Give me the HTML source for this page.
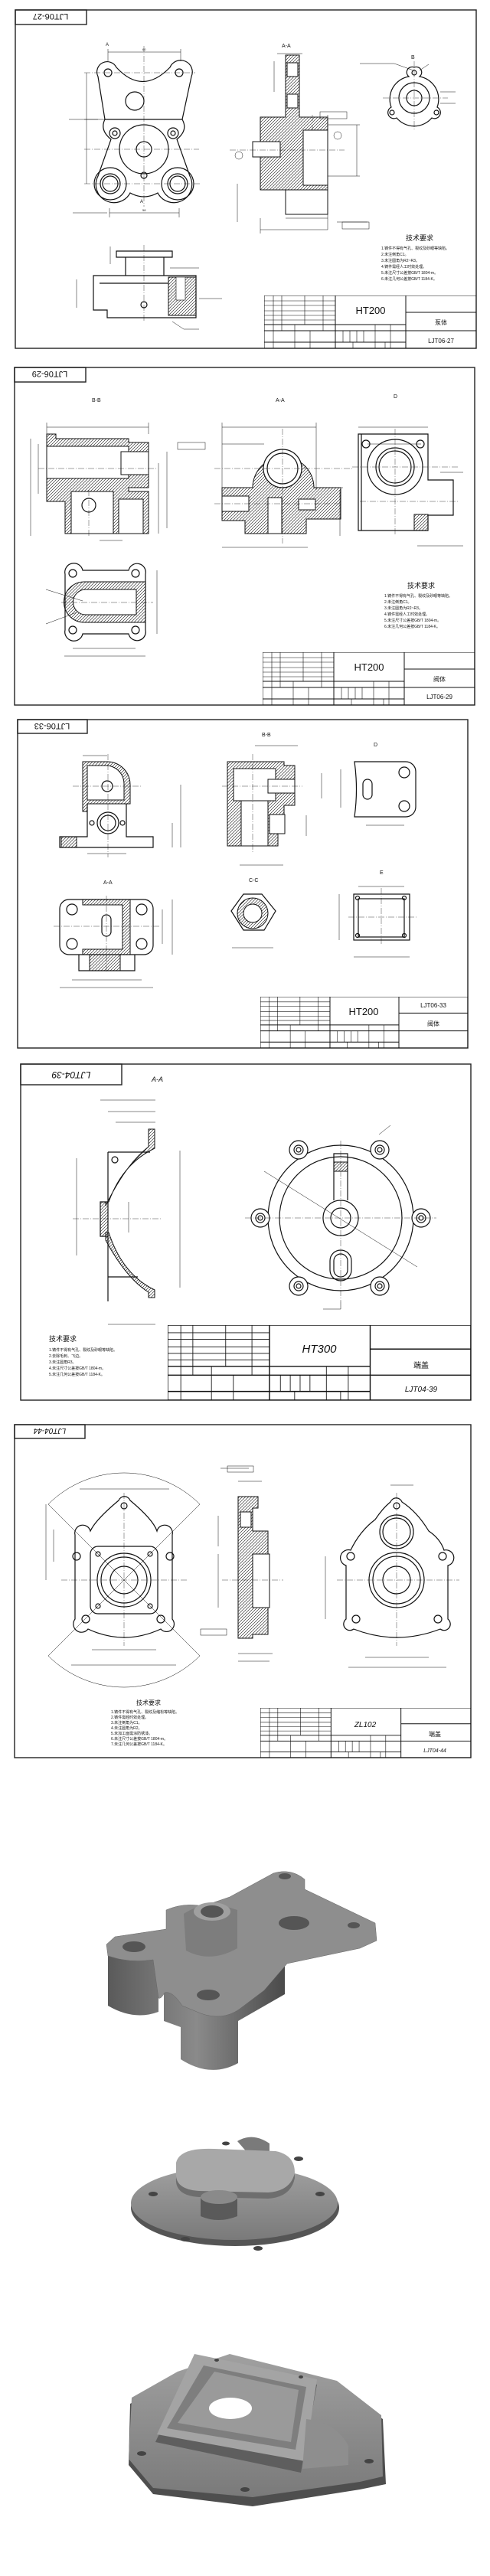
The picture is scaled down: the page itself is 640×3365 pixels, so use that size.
<!DOCTYPE html>
<html><head><meta charset="utf-8"><style>
html,body{margin:0;padding:0;background:#fff}
svg{display:block}
text{font-family:"Liberation Sans","Noto Sans CJK SC",sans-serif;fill:#111}
.o{fill:none;stroke:#111;stroke-width:1.2}
.t{fill:none;stroke:#111;stroke-width:.5}
.c{fill:none;stroke:#111;stroke-width:.4;stroke-dasharray:8 2 1 2}
.hf{fill:url(#h);stroke:#111;stroke-width:1}
.b{fill:none;stroke:#222;stroke-width:1.4}
.tr{font-size:5px}
</style></head><body>
<svg width="640" height="3365" viewBox="0 0 640 3365" xmlns="http://www.w3.org/2000/svg">
<defs>
<pattern id="h" patternUnits="userSpaceOnUse" width="4" height="4"><path d="M0,4 L4,0 M-1,1 L1,-1 M3,5 L5,3" stroke="#111" stroke-width=".6"/></pattern>
<linearGradient id="g1" x1="0" x2="1"><stop offset="0" stop-color="#5a5a5a"/><stop offset=".5" stop-color="#8a8a8a"/><stop offset="1" stop-color="#4a4a4a"/></linearGradient>
<linearGradient id="g2" x1="0" y1="0" x2="0" y2="1"><stop offset="0" stop-color="#a0a0a0"/><stop offset="1" stop-color="#7a7a7a"/></linearGradient>
<symbol id="tb" viewBox="0 0 277 69" preserveAspectRatio="none">
<g fill="none" stroke="#111" stroke-width="1">
<rect x="0" y="0" width="277" height="69"/>
<path d="M93,0V69 M185,0V69 M185,22H277 M185,46H277 M93,38H185 M93,46H185 M93,61H185 M0,38H93 M0,46H93 M0,61H93"/>
<path stroke-width=".6" d="M12,0V69 M23,0V46 M53,0V38 M77,0V46 M40,38V69 M60,46V69 M0,7H93 M0,13H93 M0,20H93 M0,26H93 M0,32H93 M145,38V69 M165,38V69 M103,46V61 M112,46V61 M121,46V61 M130,46V61 M116,61V69 M158,61V69"/>
</g></symbol>
</defs>

<!-- ============ SHEET 1 ============ -->
<rect x="20" y="13" width="602" height="442" class="b"/>
<rect x="20" y="13" width="93" height="19" class="b"/>
<text x="66" y="22" font-size="11" text-anchor="middle" transform="rotate(180 66 22)" dy="4">LJT06-27</text>
<!-- top-left view -->
<path class="o" d="M128,100 L137,156 L238,156 L250,100 A13,13 0 0 0 222,88 Q186,125 152,88 A13,13 0 0 0 128,100Z"/>
<circle cx="141" cy="95" r="5" class="o"/><circle cx="234" cy="95" r="5" class="o"/>
<circle cx="176" cy="132" r="12" class="o"/>
<path class="o" d="M137,156 Q130,170 145,182 L128,230 A22,22 0 0 0 170,252 Q188,262 206,252 A22,22 0 0 0 248,230 L231,182 Q246,170 238,156"/>
<circle cx="150" cy="174" r="7" class="o"/><circle cx="150" cy="174" r="3" class="o"/>
<circle cx="226" cy="174" r="7" class="o"/><circle cx="226" cy="174" r="3" class="o"/>
<circle cx="188" cy="195" r="32" class="o"/>
<circle cx="188" cy="195" r="10" class="o" stroke-width="2.5"/>
<circle cx="144" cy="240" r="21" class="o"/><circle cx="144" cy="240" r="13" class="o"/><circle cx="144" cy="240" r="10" class="o"/>
<circle cx="232" cy="240" r="21" class="o"/><circle cx="232" cy="240" r="13" class="o"/><circle cx="232" cy="240" r="10" class="o"/>
<circle cx="188" cy="229" r="4" class="o"/>
<path class="c" d="M188,60V270 M110,195H260 M110,240H262 M110,95H255"/>
<path class="t" d="M141,68H236 M141,64V80 M236,64V80 M113,95V240 M110,156H137 M143,278H234 M143,272V284 M234,272V284 M90,156H128 M95,278H140"/>
<text x="186" y="66" font-size="4">60</text><text x="186" y="276" font-size="4">58</text>
<text x="138" y="60" font-size="6">A</text><text x="183" y="265" font-size="6">A</text>
<!-- bottom view -->
<path class="o" d="M152,328H225V336H152Z M164,336H214V360H164Z M122,360H256V415H140V405H122Z M130,370H220"/>
<rect x="220" y="362" width="36" height="50" class="hf"/>
<rect x="230" y="362" width="12" height="30" fill="#fff" stroke="#111" stroke-width=".6"/>
<circle cx="188" cy="398" r="4" class="o"/>
<path class="c" d="M188,320V420"/>
<path class="t" d="M100,365V402 M144,322V345 M222,350H260 M260,390H290 M225,420L240,430H260"/>
<!-- A-A section -->
<text x="368" y="62" font-size="7">A-A</text>
<path class="hf" d="M373,72H391V153H428V248H391V280H373V248H340V205H365V185H340V153H373Z"/>
<rect x="375" y="82" width="14" height="18" fill="#fff" stroke="#111"/>
<rect x="375" y="123" width="14" height="18" fill="#fff" stroke="#111"/>
<rect x="396" y="170" width="32" height="72" fill="#fff" stroke="#111"/>
<rect x="330" y="185" width="36" height="20" fill="#fff" stroke="#111"/>
<rect x="373" y="248" width="55" height="32" fill="#fff" stroke="#111"/>
<path class="c" d="M300,196H450 M408,150V170"/>
<path class="t" d="M340,300H428 M340,285V305 M373,285H428 M428,150V300 M466,163V230 M428,163H470 M428,230H470 M362,70H395 M358,80V120 M310,240V290 M440,290H480"/>
<rect x="418" y="146" width="35" height="9" class="t"/><rect x="447" y="290" width="35" height="9" class="t"/>
<circle cx="441" cy="177" r="5" class="t"/><circle cx="312" cy="203" r="5" class="t"/>
<!-- B view -->
<text x="537" y="77" font-size="7">B</text>
<path class="o" d="M541,88A7,7 0 0 1 548,100A30,30 0 0 1 571,140A7,7 0 0 1 564,154A30,30 0 0 1 518,154A7,7 0 0 1 511,140A30,30 0 0 1 534,100A7,7 0 0 1 541,88Z"/>
<circle cx="541" cy="128" r="20" class="o"/><circle cx="541" cy="128" r="10" class="o" stroke-width="2.5"/>
<circle cx="541" cy="95" r="3" class="o"/><circle cx="512" cy="147" r="3" class="o"/><circle cx="570" cy="147" r="3" class="o"/>
<path class="c" d="M500,128H585 M541,80V170"/>
<path class="t" d="M470,83H515L540,92 M560,84L548,92 M575,120H595 M575,135H595"/>
<!-- tech req -->
<text x="530" y="314" font-size="9">技术要求</text>
<g class="tr"><text x="498" y="326">1.铸件不得有气孔、裂纹及砂眼等缺陷。</text><text x="498" y="334">2.未注倒角C1。</text><text x="498" y="342">3.未注圆角为R2~R3。</text><text x="498" y="350">4.铸件需经人工时效处理。</text><text x="498" y="358">5.未注尺寸公差按GB/T 1804-m。</text><text x="498" y="366">6.未注几何公差按GB/T 1184-K。</text></g>
<use href="#tb" x="345" y="386" width="277" height="69"/>
<text x="484" y="410" font-size="13" text-anchor="middle">HT200</text>
<text x="576" y="424" font-size="8" text-anchor="middle">泵体</text>
<text x="576" y="448" font-size="8" text-anchor="middle">LJT06-27</text>

<!-- ============ SHEET 2 ============ -->
<rect x="19" y="480" width="601" height="441" class="b"/>
<rect x="19" y="480" width="93" height="19" class="b"/>
<text x="65" y="489" font-size="11" text-anchor="middle" transform="rotate(180 65 489)" dy="4">LJT06-29</text>
<!-- B-B -->
<text x="120" y="525" font-size="7">B-B</text>
<path class="hf" d="M61,567H73V573H168V578H194V637H168V642H194V697H85V655H73V655H61Z"/>
<rect x="61" y="583" width="107" height="42" fill="#fff" stroke="#111"/>
<rect x="158" y="590" width="36" height="30" fill="#fff" stroke="#111"/>
<rect x="93" y="642" width="55" height="55" fill="#fff" stroke="#111"/>
<rect x="155" y="652" width="32" height="45" fill="#fff" stroke="#111"/>
<circle cx="116" cy="660" r="9" class="o"/>
<path class="c" d="M50,612H205 M116,640V700"/>
<path class="t" d="M61,558H194 M61,552V567 M194,552V567 M40,573V700 M50,580V645 M207,605V697 M218,590V690 M130,706H160"/>
<rect x="232" y="578" width="36" height="9" class="t"/>
<!-- A-A -->
<text x="360" y="525" font-size="7">A-A</text>
<path class="hf" d="M290,637H330A40,40 0 1 1 410,637H445V678H400V697H320V680H290Z"/>
<circle cx="369" cy="612" r="25" fill="#fff" stroke="#111" stroke-width="1.2"/>
<circle cx="369" cy="612" r="20" class="o"/>
<rect x="290" y="648" width="35" height="20" fill="#fff" stroke="#111"/>
<rect x="350" y="650" width="18" height="47" fill="#fff" stroke="#111"/>
<rect x="390" y="652" width="22" height="14" fill="#fff" stroke="#111"/>
<path class="c" d="M280,612H460 M369,560V710 M280,658H445"/>
<path class="t" d="M290,558H413 M290,552V640 M413,552V640 M290,580H345 M290,715H402 M444,640V700 M430,637H448"/>
<!-- D -->
<text x="514" y="520" font-size="7">D</text>
<path class="o" d="M468,567H559V627H592V673H559V693H468Z M472,567V693"/>
<circle cx="516" cy="610" r="36" class="o"/><circle cx="516" cy="610" r="25" class="o"/><circle cx="516" cy="610" r="21" class="o"/>
<circle cx="478" cy="580" r="5" class="o"/><circle cx="549" cy="580" r="5" class="o"/>
<rect x="541" y="672" width="18" height="21" class="hf"/>
<path class="c" d="M460,610H600 M516,560V700 M470,655H600"/>
<path class="t" d="M468,558H559 M480,580H550 M575,617H605 M545,713H605"/>
<!-- C-C -->
<text x="132" y="797" font-size="7">C-C</text>
<path class="o" d="M85,750A11,11 0 0 1 108,745H168A11,11 0 0 1 190,750V823A11,11 0 0 1 168,828H108A11,11 0 0 1 85,823Z"/>
<path class="hf" d="M110,760H190V813H110A26,26 0 0 1 110,760Z"/>
<path d="M112,770H178V803H112A16,16 0 0 1 112,770Z" fill="#fff" stroke="#111"/>
<circle cx="95" cy="749" r="5" class="o"/><circle cx="177" cy="749" r="5" class="o"/><circle cx="95" cy="823" r="5" class="o"/><circle cx="177" cy="823" r="5" class="o"/>
<path class="c" d="M80,787H200"/>
<path class="t" d="M95,847H177 M84,857H190 M205,745V828 M60,770L108,785 M60,815L100,800"/>
<text x="532" y="768" font-size="9">技术要求</text>
<g class="tr"><text x="502" y="780">1.铸件不得有气孔、裂纹及砂眼等缺陷。</text><text x="502" y="788">2.未注倒角C1。</text><text x="502" y="796">3.未注圆角为R2~R3。</text><text x="502" y="804">4.铸件需经人工时效处理。</text><text x="502" y="812">5.未注尺寸公差按GB/T 1804-m。</text><text x="502" y="820">6.未注几何公差按GB/T 1184-K。</text></g>
<use href="#tb" x="343" y="852" width="277" height="69"/>
<text x="482" y="876" font-size="13" text-anchor="middle">HT200</text>
<text x="574" y="890" font-size="8" text-anchor="middle">阀体</text>
<text x="574" y="913" font-size="8" text-anchor="middle">LJT06-29</text>

<!-- ============ SHEET 3 ============ -->
<rect x="23" y="940" width="588" height="429" class="b"/>
<rect x="23" y="940" width="91" height="18" class="b"/>
<text x="68" y="949" font-size="11" text-anchor="middle" transform="rotate(180 68 949)" dy="4">LJT06-33</text>
<!-- front -->
<path class="hf" d="M108,995H140A30,30 0 0 1 170,1025V1050H114V1060H108Z"/>
<path d="M114,1000H138A24,24 0 0 1 162,1024V1045H114Z" fill="#fff" stroke="#111"/>
<circle cx="140" cy="1027" r="7" class="o"/>
<path class="o" d="M114,1050V1093H78V1107H200V1093H165V1050"/>
<rect x="80" y="1093" width="20" height="14" class="hf"/>
<circle cx="141" cy="1075" r="14" class="o"/><circle cx="141" cy="1075" r="10" class="o"/>
<circle cx="120" cy="1075" r="3" class="o"/><circle cx="160" cy="1075" r="3" class="o"/>
<path class="c" d="M95,1027H185 M141,985V1120"/>
<path class="t" d="M108,987H140 M114,1115H165 M236,1025V1107 M225,1075V1107"/>
<!-- B-B -->
<text x="342" y="962" font-size="7">B-B</text>
<path class="hf" d="M297,995H371V1000H385V1052H371V1067H363V1105H297Z"/>
<rect x="305" y="1004" width="55" height="42" fill="#fff" stroke="#111"/>
<rect x="315" y="1046" width="35" height="59" fill="#fff" stroke="#111"/>
<rect x="350" y="1018" width="35" height="18" fill="#fff" stroke="#111"/>
<rect x="352" y="1064" width="20" height="25" fill="#fff" stroke="#111"/>
<path class="c" d="M290,1027H395 M330,985V1115"/>
<path class="t" d="M333,974H389 M313,1130H370 M420,1010V1043 M400,1065V1092"/>
<!-- D -->
<text x="488" y="975" font-size="7">D</text>
<path class="o" d="M463,995H530A13,13 0 0 1 543,1008V1054A13,13 0 0 1 530,1067H463Q468,1031 463,995Z"/>
<circle cx="528" cy="1009" r="7" class="o"/><circle cx="528" cy="1053" r="7" class="o"/>
<rect x="474" y="1018" width="12" height="26" rx="6" class="o"/>
<path class="t" d="M445,1005V1055 M478,1078H528"/>
<!-- A-A -->
<text x="135" y="1155" font-size="7">A-A</text>
<rect x="78" y="1175" width="122" height="72" rx="12" class="o"/>
<path class="hf" d="M108,1175H170V1247H108V1240H160V1182H108Z"/>
<circle cx="94" cy="1188" r="7" class="o"/><circle cx="185" cy="1188" r="7" class="o"/><circle cx="94" cy="1233" r="7" class="o"/><circle cx="185" cy="1233" r="7" class="o"/>
<rect x="133" y="1195" width="12" height="28" rx="6" class="o"/>
<path class="o" d="M103,1247V1268H176V1247"/>
<rect x="117" y="1247" width="40" height="21" class="hf"/>
<path class="c" d="M70,1210H210 M139,1170V1270"/>
<path class="t" d="M94,1280H185 M78,1290H200 M225,1175V1247 M212,1188V1233"/>
<!-- C-C -->
<text x="325" y="1152" font-size="7">C-C</text>
<path class="o" d="M302,1190L318,1168H342L360,1190L345,1215H318Z"/>
<circle cx="330" cy="1193" r="20" class="hf"/><circle cx="330" cy="1193" r="12" fill="#fff" stroke="#111"/>
<path class="t" d="M303,1238H357"/>
<!-- E -->
<text x="496" y="1142" font-size="7">E</text>
<rect x="462" y="1168" width="73" height="60" class="o"/>
<rect x="468" y="1174" width="60" height="50" class="o"/>
<circle cx="467" cy="1173" r="2.5" class="o"/><circle cx="528" cy="1173" r="2.5" class="o"/><circle cx="467" cy="1222" r="2.5" class="o"/><circle cx="528" cy="1222" r="2.5" class="o"/>
<path class="c" d="M455,1198H545 M498,1160V1235"/>
<path class="t" d="M462,1250H535 M468,1158H528 M443,1168V1228"/>
<use href="#tb" x="340" y="1302" width="271" height="67"/>
<text x="475" y="1326" font-size="13" text-anchor="middle">HT200</text>
<text x="566" y="1316" font-size="8" text-anchor="middle">LJT06-33</text>
<text x="566" y="1340" font-size="8" text-anchor="middle">阀体</text>

<!-- ============ SHEET 4 ============ -->
<rect x="27" y="1390" width="588" height="439" class="b"/>
<rect x="27" y="1390" width="132" height="27" class="b"/>
<text x="93" y="1404" font-size="12" font-style="italic" text-anchor="middle" transform="rotate(180 93 1404)" dy="4">LJT04-39</text>
<text x="198" y="1413" font-size="9" font-style="italic">A-A</text>
<!-- section -->
<path class="hf" d="M194,1475H202V1500Q160,1520 142,1570H138V1575Q165,1520 194,1498Z"/>
<path class="hf" d="M138,1610H142Q160,1665 202,1685V1695H194V1688Q165,1670 138,1620Z"/>
<path class="o" d="M141,1505H196 M141,1505V1700 M131,1570H141V1615H131Z M141,1668H180"/>
<rect x="131" y="1570" width="10" height="45" class="hf"/>
<circle cx="150" cy="1515" r="4" class="o"/>
<path class="c" d="M95,1592H210"/>
<path class="t" d="M131,1437H203 M141,1452H203 M151,1466H203 M235,1503V1682 M100,1513V1640 M141,1730H203 M168,1610V1570"/>
<!-- right view -->
<circle cx="445" cy="1591" r="95" class="o"/>
<circle cx="445" cy="1591" r="80" class="o"/>
<g class="o">
<circle cx="390" cy="1502" r="12" fill="#fff"/><circle cx="496" cy="1502" r="12" fill="#fff"/>
<circle cx="340" cy="1591" r="12" fill="#fff"/><circle cx="550" cy="1591" r="12" fill="#fff"/>
<circle cx="390" cy="1680" r="12" fill="#fff"/><circle cx="496" cy="1680" r="12" fill="#fff"/>
<circle cx="390" cy="1502" r="6"/><circle cx="496" cy="1502" r="6"/><circle cx="340" cy="1591" r="6"/><circle cx="550" cy="1591" r="6"/><circle cx="390" cy="1680" r="6"/><circle cx="496" cy="1680" r="6"/>
<circle cx="390" cy="1502" r="3"/><circle cx="496" cy="1502" r="3"/><circle cx="340" cy="1591" r="3"/><circle cx="550" cy="1591" r="3"/><circle cx="390" cy="1680" r="3"/><circle cx="496" cy="1680" r="3"/>
</g>
<circle cx="445" cy="1591" r="23" class="o"/><circle cx="445" cy="1591" r="13" class="o"/>
<path class="o" d="M436,1568V1507H454V1568"/>
<rect x="436" y="1518" width="18" height="12" class="hf"/>
<rect x="431" y="1633" width="28" height="40" rx="14" class="o"/><rect x="436" y="1638" width="18" height="30" rx="9" class="o"/>
<path class="c" d="M320,1591H570 M445,1490V1700"/>
<path class="t" d="M345,1530L545,1655 M495,1482L510,1470 M422,1710H445V1700"/>
<text x="64" y="1752" font-size="9">技术要求</text>
<g class="tr"><text x="64" y="1765">1.铸件不得有气孔、裂纹及砂眼等缺陷。</text><text x="64" y="1773">2.去除毛刺、飞边。</text><text x="64" y="1781">3.未注圆角R3。</text><text x="64" y="1789">4.未注尺寸公差按GB/T 1804-m。</text><text x="64" y="1797">5.未注几何公差按GB/T 1184-K。</text></g>
<use href="#tb" x="219" y="1731" width="396" height="98"/>
<text x="417" y="1767" font-size="15" font-style="italic" text-anchor="middle">HT300</text>
<text x="550" y="1787" font-size="10" text-anchor="middle">端盖</text>
<text x="550" y="1818" font-size="10" font-style="italic" text-anchor="middle">LJT04-39</text>

<!-- ============ SHEET 5 ============ -->
<rect x="19" y="1861" width="596" height="435" class="b"/>
<rect x="19" y="1861" width="92" height="18" class="b"/>
<text x="65" y="1870" font-size="10" font-style="italic" text-anchor="middle" transform="rotate(180 65 1870)" dy="4">LJT04-44</text>
<!-- left view -->
<path class="t" d="M63,1965A140,140 0 0 1 261,1965 M63,2163A140,140 0 0 0 261,2163 M162,2064L63,1965 M162,2064L261,1965 M162,2064L63,2163 M162,2064L261,2163"/>
<path class="o" d="M155,1960A8,8 0 0 1 170,1960Q200,1985 205,2000A8,8 0 0 1 225,2005V2115A8,8 0 0 1 210,2128Q162,2150 115,2128A8,8 0 0 1 98,2115V2005A8,8 0 0 1 118,2000Q125,1985 155,1960Z"/>
<rect x="118" y="2020" width="88" height="88" rx="10" class="o"/>
<circle cx="162" cy="2064" r="35" class="o"/><circle cx="162" cy="2064" r="30" class="o"/><circle cx="162" cy="2064" r="18" class="o"/>
<g class="o"><circle cx="162" cy="1967" r="4"/><circle cx="100" cy="2033" r="5"/><circle cx="222" cy="2033" r="5"/><circle cx="112" cy="2115" r="5"/><circle cx="210" cy="2115" r="5"/><circle cx="128" cy="2030" r="3"/><circle cx="196" cy="2030" r="3"/><circle cx="128" cy="2098" r="3"/><circle cx="196" cy="2098" r="3"/></g>
<path class="c" d="M80,2064H245 M162,1950V2150"/>
<path class="t" d="M104,1945H221 M93,2175H230 M120,2155H204 M60,1965V2064 M70,1998V2040"/>
<!-- middle section -->
<path class="hf" d="M311,1955H337V1970H330V2000H350V2030H337V2100H350V2135H330V2140H311Z"/>
<rect x="314" y="1975" width="14" height="20" fill="#fff" stroke="#111"/>
<rect x="330" y="2030" width="22" height="70" fill="#fff" stroke="#111"/>
<path class="c" d="M290,2064H370"/>
<path class="t" d="M311,1935H342 M311,2160H356 M311,2170H352 M285,1980V2020 M285,2030V2100 M288,1918H325"/>
<rect x="297" y="1915" width="34" height="8" class="t"/><rect x="262" y="2128" width="34" height="8" class="t"/>
<!-- right view -->
<path class="o" d="M510,1962A8,8 0 0 1 525,1962Q545,1975 560,2000Q575,2010 580,2025A8,8 0 0 1 585,2045V2115A8,8 0 0 1 575,2128Q518,2150 462,2128A8,8 0 0 1 452,2115V2045A8,8 0 0 1 458,2025Q470,2000 490,1985Q500,1970 510,1962Z"/>
<circle cx="518" cy="2001" r="22" class="o"/><circle cx="518" cy="2001" r="18" class="o"/>
<circle cx="518" cy="2064" r="36" class="o"/><circle cx="518" cy="2064" r="31" class="o"/><circle cx="518" cy="2064" r="18" class="o"/>
<g class="o"><circle cx="518" cy="1967" r="4"/><circle cx="458" cy="2033" r="5"/><circle cx="578" cy="2033" r="5"/><circle cx="465" cy="2115" r="5"/><circle cx="572" cy="2115" r="5"/></g>
<path class="c" d="M440,2064H600 M518,1950V2150"/>
<path class="t" d="M455,2178H583 M477,2165H560 M425,2033V2115 M510,1940L540,1940"/>
<text x="178" y="2227" font-size="8">技术要求</text>
<g class="tr" font-size="4.5"><text x="145" y="2238">1.铸件不得有气孔、裂纹及缩松等缺陷。</text><text x="145" y="2245">2.铸件需经时效处理。</text><text x="145" y="2252">3.未注倒角为C1。</text><text x="145" y="2259">4.未注圆角为R2。</text><text x="145" y="2266">5.未加工面需涂防锈漆。</text><text x="145" y="2273">6.未注尺寸公差按GB/T 1804-m。</text><text x="145" y="2280">7.未注几何公差按GB/T 1184-K。</text></g>
<use href="#tb" x="340" y="2231" width="275" height="65"/>
<text x="477" y="2256" font-size="10" font-style="italic" text-anchor="middle">ZL102</text>
<text x="568" y="2268" font-size="8" text-anchor="middle">端盖</text>
<text x="568" y="2289" font-size="7" font-style="italic" text-anchor="middle">LJT04-44</text>

<!-- ============ 3D PARTS ============ -->
<!-- part 1 -->
<path d="M141,2552V2620Q175,2640 207,2628V2600L214,2605V2640L236,2648V2690Q275,2715 311,2695V2640L372,2605V2560L141,2545Z" fill="url(#g1)"/>
<path d="M139,2540L150,2530L217,2520L217,2495Q240,2485 265,2490L300,2478L357,2447Q380,2440 398,2455L398,2468L490,2512L492,2535L470,2545L375,2565L345,2600L312,2625Q290,2640 262,2630L238,2620Q225,2600 215,2603Q210,2612 207,2610L200,2560Q170,2565 141,2555Z" fill="#8e8e8e" stroke="#666" stroke-width=".5"/>
<ellipse cx="175" cy="2543" rx="15" ry="7" fill="#555"/>
<ellipse cx="272" cy="2606" rx="15" ry="7" fill="#555"/>
<path d="M240,2500Q270,2480 310,2495V2545Q275,2565 243,2548Z" fill="#7d7d7d"/>
<ellipse cx="277" cy="2497" rx="24" ry="12" fill="#a0a0a0"/>
<ellipse cx="277" cy="2497" rx="15" ry="8" fill="#555"/>
<ellipse cx="384" cy="2512" rx="20" ry="9" fill="#555"/>
<ellipse cx="372" cy="2451" rx="8" ry="4" fill="#555"/><ellipse cx="462" cy="2515" rx="8" ry="4" fill="#555"/>
<!-- part 2 -->
<ellipse cx="307" cy="2884" rx="136" ry="50" fill="#555"/>
<ellipse cx="306" cy="2878" rx="135" ry="48" fill="url(#g2)"/>
<path d="M310,2797Q330,2785 352,2800V2815L330,2820Z" fill="#7a7a7a"/>
<path d="M230,2830Q235,2810 280,2812L360,2815Q385,2820 385,2845Q380,2870 350,2872L260,2870Q228,2868 230,2845Z" fill="#6e6e6e"/>
<path d="M230,2825Q235,2805 280,2807L360,2810Q385,2815 385,2838Q380,2862 350,2864L260,2862Q228,2860 230,2838Z" fill="#a8a8a8"/>
<path d="M262,2870V2895Q285,2905 310,2895V2872Z" fill="#5a5a5a"/>
<ellipse cx="286" cy="2870" rx="24" ry="9" fill="#8a8a8a"/>
<g fill="#444"><ellipse cx="200" cy="2866" rx="6" ry="3"/><ellipse cx="418" cy="2866" rx="6" ry="3"/><ellipse cx="242" cy="2925" rx="6" ry="3"/><ellipse cx="337" cy="2937" rx="6" ry="3"/><ellipse cx="390" cy="2820" rx="6" ry="3"/><ellipse cx="295" cy="2800" rx="5" ry="2.5"/></g>
<!-- part 3 -->
<path d="M168,3220L170,3140L232,3105L300,3082L440,3118L500,3160L504,3245L470,3252L330,3274L200,3258Z" fill="#4e4e4e"/>
<path d="M168,3212L172,3132L232,3098L300,3075L440,3110L498,3155L500,3235L470,3242L330,3262L200,3250Z" fill="url(#g2)"/>
<path d="M254,3081L414,3115L393,3230L203,3190Z" fill="#5e5e5e"/>
<path d="M254,3075L414,3108L398,3215L205,3180Z" fill="#a4a4a4"/>
<path d="M266,3090L400,3118L386,3200L218,3172Z" fill="#7e7e7e"/>
<path d="M280,3098L390,3122L380,3190L232,3165Z" fill="#9a9a9a"/>
<ellipse cx="301" cy="3146" rx="28" ry="14" fill="#fff"/>
<path d="M400,3160Q440,3165 455,3195V3220L395,3225Z" fill="#8e8e8e"/>
<g fill="#444"><ellipse cx="185" cy="3205" rx="6" ry="3"/><ellipse cx="320" cy="3252" rx="6" ry="3"/><ellipse cx="482" cy="3215" rx="6" ry="3"/><ellipse cx="283" cy="3083" rx="3" ry="2"/><ellipse cx="393" cy="3105" rx="3" ry="2"/></g>
</svg>
</body></html>
